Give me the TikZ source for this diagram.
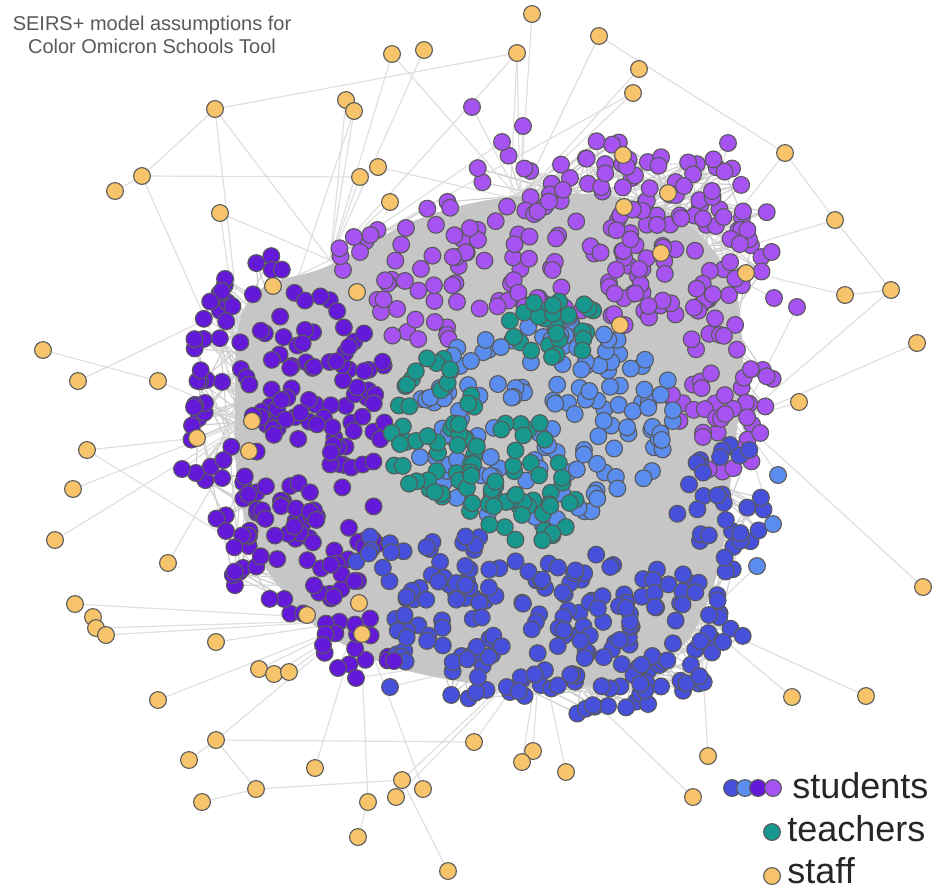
\documentclass[tikz,border=0pt]{standalone}
\usepackage{fontspec}
\setmainfont{Liberation Sans}
\definecolor{dpur}{HTML}{6419D9}
\definecolor{lpur}{HTML}{A653F2}
\definecolor{mblue}{HTML}{4750DA}
\definecolor{lblue}{HTML}{5A8DEE}
\definecolor{tealc}{HTML}{17978E}
\definecolor{staffc}{HTML}{F7C46C}
\pgfdeclarelayer{edges}
\pgfdeclarelayer{blob}
\pgfsetlayers{edges,blob,main}

\begin{document}
\begin{tikzpicture}[x=0.5pt,y=-0.5pt,
  pers/.style={circle,draw=black!65,line width=0.55pt,inner sep=0pt,minimum size=8.4pt},
  darkpur/.style={pers,fill=dpur},
  lightpur/.style={pers,fill=lpur},
  midblue/.style={pers,fill=mblue},
  lightblue/.style={pers,fill=lblue},
  teacher/.style={pers,fill=tealc},
  staff/.style={pers,fill=staffc},
  link/.style={draw=gray!25,line width=0.6pt},
  inlink/.style={draw=gray!38,line width=0.6pt}]
\useasboundingbox (0,0) rectangle (936,890);
\pgfmathsetseed{4242}

% title
\node[align=center,text=black!65,font=\fontsize{10}{11.5}\selectfont] (title) at (152,35)
  {SEIRS+ model assumptions for\\Color Omicron Schools Tool};

% dense gray core
\begin{pgfonlayer}{blob}
\fill[gray!45] plot[smooth cycle,tension=0.7] coordinates {(250,300) (330,265) (430,215) (540,195) (650,205) (720,260) (742,340) (732,470) (712,590) (660,665) (560,688) (440,678) (350,648) (290,600) (245,520) (235,400)};
\end{pgfonlayer}

% students and teachers, cluster by cluster
\foreach \cname/\sty/\cx/\cy/\rx/\ry/\num in {
  dpa/darkpur/276/405/95/150/145, dpb/darkpur/305/565/80/55/40, dpc/darkpur/362/640/45/30/14,
  dpd/darkpur/368/420/22/90/16,
  lpa/lightpur/600/232/180/95/190, lpb/lightpur/722/390/55/85/45, lpc/lightpur/425/300/60/45/22,
  lpd/lightpur/385/255/50/30/12,
  mba/midblue/565/632/180/82/190, mbb/midblue/722/505/45/70/32, mbc/midblue/425/560/70/40/28,
  lba/lightblue/545/420/135/105/150,
  tea/teacher/432/430/45/75/44, teb/teacher/550/325/55/35/26, tec/teacher/525/485/60/65/52}
{
  \foreach \i in {1,...,\num} {
    \pgfmathsetmacro\ang{360*rnd}
    \pgfmathsetmacro\rad{sqrt(rnd)}
    \node[\sty] (\cname\i) at ({\cx+\rx*\rad*cos(\ang)},{\cy+\ry*\rad*sin(\ang)}) {};
  }
}

% students on the rim
\foreach \n/\sty/\x/\y in {px1/lightpur/472/107, px2/lightpur/523/126, px3/lightpur/502/142,
  px4/lightpur/728/143, px5/lightpur/712/191, px6/lightpur/684/186, px7/lightpur/774/298,
  px8/lightpur/797/307, px9/lightblue/778/475, px10/lightblue/773/524, px11/lightblue/757/566,
  px12/midblue/723/642, px13/darkpur/194/407, px14/darkpur/182/469, px15/darkpur/226/531,
  px16/darkpur/323/645, px17/darkpur/338/668, px18/darkpur/356/678, px19/darkpur/394/661,
  px20/midblue/390/687}
  \node[\sty] (\n) at (\x,\y) {};

% staff
\foreach \n/\x/\y in {st1/532/14, st2/599/36, st3/517/53, st4/639/69, st5/633/93, st6/424/50,
  st7/392/54, st8/346/100, st9/354/111, st10/215/109, st11/142/176, st12/115/191, st13/220/213,
  st14/360/177, st15/378/167, st16/390/202, st17/623/155, st18/785/153, st19/668/193,
  st20/624/207, st21/835/220, st22/661/253, st23/746/273, st24/845/295, st25/891/290,
  st26/620/325, st27/917/343, st28/799/402, st29/923/587, st30/43/350, st31/78/381,
  st32/158/381, st33/252/421, st34/249/451, st35/197/438, st36/87/450, st37/73/489,
  st38/55/540, st39/168/563, st40/75/604, st41/93/617, st42/96/628, st43/106/635,
  st44/216/642, st45/307/615, st46/359/603, st47/362/634, st48/259/669, st49/274/674,
  st50/289/672, st51/158/700, st52/216/740, st53/189/760, st54/315/768, st55/256/789,
  st56/202/802, st57/402/780, st58/423/789, st59/396/797, st60/368/802, st61/358/837,
  st62/448/871, st63/474/742, st64/792/697, st65/866/696, st66/533/751, st67/522/762,
  st68/566/772, st69/708/756, st70/693/797, st71/273/286, st72/357/292}
  \node[staff] (\n) at (\x,\y) {};

% anchor points inside the core
\coordinate (hubNW) at (330,260);
\coordinate (hubN) at (520,200);
\coordinate (hubNE) at (700,260);
\coordinate (hubE) at (740,420);
\coordinate (hubSE) at (700,620);
\coordinate (hubS) at (540,650);
\coordinate (hubSW) at (360,620);
\coordinate (hubW) at (250,420);
\coordinate (hubC) at (500,420);

\begin{pgfonlayer}{edges}
% contacts inside and between classes
\foreach \ca/\na/\cb/\nb/\cnt in {dpa/145/dpa/145/170, dpb/40/dpa/145/50, dpc/14/dpb/40/20,
  dpd/16/dpa/145/25, lpd/12/lpa/190/20,
  lpa/190/lpa/190/220, lpb/45/lpa/190/50, lpc/22/lpa/190/30, mba/190/mba/190/220,
  mbb/32/mba/190/40, mbc/28/mba/190/35, lba/150/lba/150/120, lba/150/lpb/45/30,
  lba/150/mbb/32/30, tea/44/dpa/145/40, tea/44/lba/150/40, teb/26/lpa/190/30,
  tec/52/mba/190/40, lpc/22/dpa/145/25, mbc/28/dpb/40/25}
{
  \foreach \k in {1,...,\cnt} {
    \pgfmathtruncatemacro\p{1+int(rnd*(\na-1))}
    \pgfmathtruncatemacro\q{1+int(rnd*(\nb-1))}
    \draw[inlink] (\ca\p) -- (\cb\q);
  }
}
% contacts of staff
\foreach \a/\b in {st1/hubN, st2/hubN, st2/st18, st3/hubN, st3/hubNW, st3/st10, st3/hubC,
  st4/hubN, st5/hubN, st5/hubNW, st6/hubNW, st7/hubNW, st7/hubN, st8/hubNW, st9/hubNW,
  st9/hubW, st10/st11, st10/hubNW, st10/hubW, st11/st14, st11/hubW, st12/st11, st13/hubNW,
  st13/hubW, st14/hubNW, st15/hubN, st16/hubNW, st17/hubN, st19/hubNE, st20/hubN,
  st22/hubNE, st18/st21, st18/hubNE, st21/st25, st21/hubNE, st23/hubNE, st24/st25,
  st24/hubNE, st25/hubE, st26/hubC, st27/hubE, st28/hubE, st29/hubE, st30/st32,
  st31/hubNW, st32/hubW, st35/hubW, st36/st35, st37/hubW, st38/hubW, st39/hubW,
  st40/hubSW, st42/hubSW, st43/hubSW, st36/hubSW, st44/hubSW, st45/hubSW, st46/hubC,
  st47/hubS, st48/hubSW, st49/hubSW, st50/hubSW, st51/hubSW, st52/st63, st52/hubSW,
  st52/st53, st52/st55, st54/hubSW, st55/st56, st55/st57, st57/hubS, st58/hubSW,
  st59/hubS, st60/hubSW, st61/st60, st62/st57, st63/hubS, st64/hubSE, st65/hubSE,
  st66/hubS, st67/hubS, st68/hubS, st69/hubSE, st70/hubS, st71/hubW, st72/hubNW}
  \draw[link] (\a) -- (\b);
% contacts of rim students
\foreach \a/\b in {px1/hubN, px2/hubN, px3/hubNW, px4/hubNE, px4/px6, px5/hubNE, px6/hubN,
  px7/hubNE, px8/hubE, px9/hubE, px10/hubE, px11/hubSE, px12/hubSE, px13/hubW, px14/hubW,
  px15/hubW, px16/hubSW, px17/hubSW, px18/hubS, px19/hubS, px20/hubS}
  \draw[link] (\a) -- (\b);
\end{pgfonlayer}

% legend
\node[midblue] (lg1) at (732,788) {};
\node[lightblue] (lg2) at (745,788) {};
\node[darkpur] (lg3) at (758,788) {};
\node[lightpur] (lg4) at (773,788) {};
\node[anchor=west,inner sep=0pt,text=black!85,font=\fontsize{18}{20}\selectfont] (lgstud) at (792,786) {students};
\node[teacher] (lg5) at (772,832) {};
\node[anchor=west,inner sep=0pt,text=black!85,font=\fontsize{18}{20}\selectfont] (lgteach) at (787,829) {teachers};
\node[staff] (lg6) at (772,876) {};
\node[anchor=west,inner sep=0pt,text=black!85,font=\fontsize{18}{20}\selectfont] (lgstaff) at (787,871) {staff};
\end{tikzpicture}
\end{document}
